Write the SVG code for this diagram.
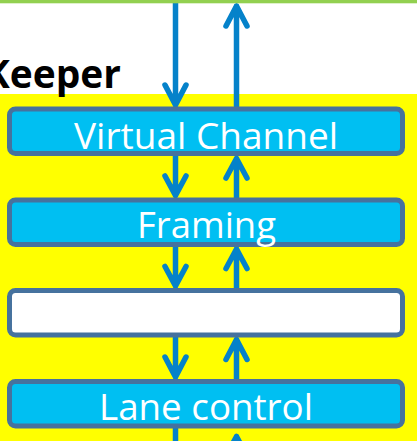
<svg xmlns="http://www.w3.org/2000/svg" width="417" height="441" viewBox="0 0 417 441">
  <defs>
    <style>
      .layer { fill: #00BFF2; stroke: #46729E; stroke-width: 5; }
      .blank { fill: #FFFFFF; stroke: #46729E; stroke-width: 5; }
      .label { fill: #FFFFFF; font-family: "Open Sans", "Noto Sans", sans-serif; font-size: 37px; text-anchor: middle; }
      .flow { fill: none; stroke: #0582CA; stroke-width: 5.5; stroke-linecap: round; stroke-linejoin: round; }
    </style>
  </defs>

  <!-- background -->
  <rect x="0" y="0" width="417" height="441" fill="#FFFFFF"/>
  <rect x="0" y="94" width="417" height="347" fill="#FFFF00"/>

  <!-- title, clipped at the left edge -->
  <text x="-16" y="88" font-family="'Open Sans', 'Noto Sans', sans-serif" font-size="39" font-weight="bold" fill="#000000" textLength="137" lengthAdjust="spacingAndGlyphs">Keeper</text>

  <!-- connectors -->
  <g id="connectors" class="flow">
    <!-- above Virtual Channel -->
    <path d="M175.5 3 V105 M165 85 L175.5 105 L186 85"/>
    <path d="M236.5 106 V6 M226 26 L236.5 6 L247 26"/>
    <!-- Virtual Channel / Framing -->
    <path d="M175.5 156 V195.5 M165 176 L175.5 195.5 L186 176"/>
    <path d="M236.5 197.5 V158.5 M226 178 L236.5 158.5 L247 178"/>
    <!-- Framing / blank layer -->
    <path d="M175.5 247 V286 M165 266.5 L175.5 286 L186 266.5"/>
    <path d="M236.5 288 V249 M226 268.5 L236.5 249 L247 268.5"/>
    <!-- blank layer / Lane control -->
    <path d="M175.5 337.5 V377 M165 357 L175.5 377 L186 357"/>
    <path d="M236.5 379 V339.5 M226 359.5 L236.5 339.5 L247 359.5"/>
    <!-- below Lane control -->
    <path d="M175.5 428 V445"/>
    <path d="M236.5 445 V436.5 M226 456 L236.5 436.5 L247 456"/>
  </g>

  <!-- top rule -->
  <rect x="0" y="0" width="417" height="3.3" fill="#92D050"/>

  <g id="virtual-channel">
    <rect class="layer" x="9.5" y="109" width="393" height="44.5" rx="6"/>
    <text class="label" x="206" y="149" textLength="264" lengthAdjust="spacingAndGlyphs">Virtual Channel</text>
  </g>

  <g id="framing">
    <rect class="layer" x="9.5" y="200" width="393" height="44.5" rx="6"/>
    <text class="label" x="206.5" y="238" textLength="139" lengthAdjust="spacingAndGlyphs">Framing</text>
  </g>

  <g id="blank-layer">
    <rect class="blank" x="9.5" y="290.5" width="393" height="44.5" rx="6"/>
  </g>

  <g id="lane-control">
    <rect class="layer" x="9.5" y="381.5" width="393" height="44.5" rx="6"/>
    <text class="label" x="206" y="420" textLength="214" lengthAdjust="spacingAndGlyphs">Lane control</text>
  </g>
</svg>
